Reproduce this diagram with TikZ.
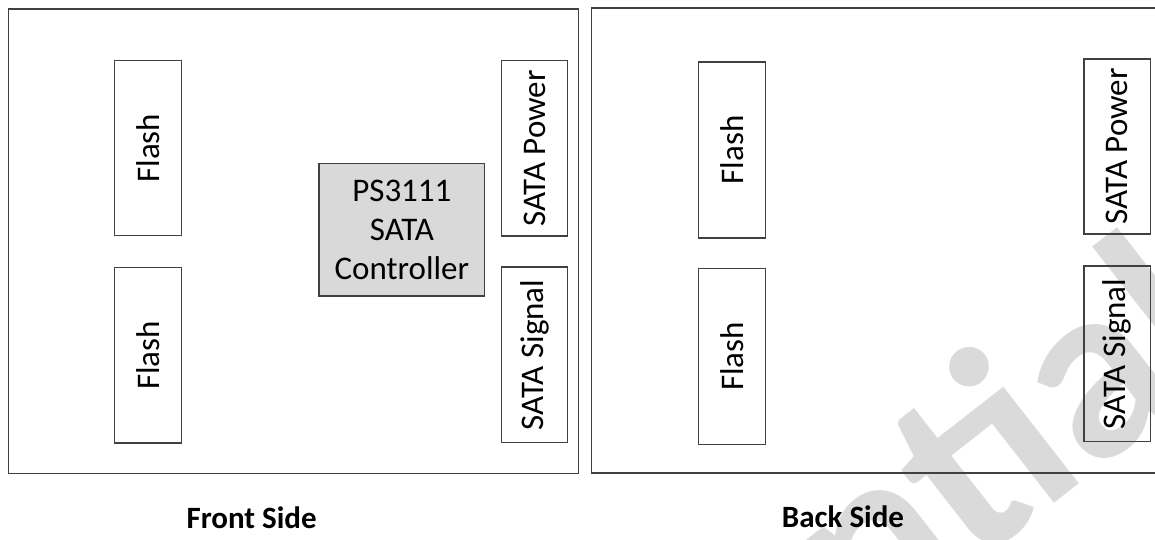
\documentclass[tikz,border=0pt]{standalone}
\usepackage{fontspec}
\setmainfont{Carlito}
\definecolor{edge}{HTML}{404040}
\definecolor{chip}{HTML}{D9D9D9}
\definecolor{wmark}{HTML}{DADADA}
\begin{document}
\begin{tikzpicture}[x=1pt,y=-1pt,
  board/.style={draw=edge,line width=1.6pt},
  part/.style={draw=edge,line width=1.3pt,inner sep=0pt},
  lbl/.style={font=\fontsize{33}{39}\selectfont,text=black},
  sidecap/.style={font=\fontsize{31}{36}\selectfont\bfseries,text=black,anchor=base}]
\useasboundingbox (0,0) rectangle (1155,539);
\begin{scope}
\clip (0,0) rectangle (1155,539);
\node[text=wmark,font=\fontsize{255}{260}\selectfont\bfseries,rotate=38,anchor=base east,inner sep=0pt] (wm) at (1240,359) {Confidential};
\end{scope}
% boards
\draw[board] (8.5,9) rectangle (578.3,473.3);
\draw[board] (1170,8) -- (591.5,8) -- (591.5,472.7) -- (1170,472.7);
% front parts
\draw[part] (114.7,60.7) rectangle (181.3,235.7) node[midway,lbl,rotate=90] (f1) {Flash};
\draw[part] (114.7,267.7) rectangle (181.3,443) node[midway,lbl,rotate=90] (f2) {Flash};
\draw[part,fill=chip] (319,163.7) rectangle (484.7,296) node[midway,lbl,align=center] (ctl) {PS3111\\SATA\\Controller};
\draw[part] (501.3,60.8) rectangle (567.7,236) node[midway,lbl,rotate=90] (p1) {SATA Power};
\draw[part] (501.3,267) rectangle (567.7,442.7) node[midway,lbl,rotate=90] (s1) {SATA Signal};
% back parts
\draw[part] (698.3,62) rectangle (765.5,238) node[midway,lbl,rotate=90] (f3) {Flash};
\draw[part] (698.3,268.7) rectangle (765.5,444.3) node[midway,lbl,rotate=90] (f4) {Flash};
\draw[part] (1084,59) rectangle (1150.7,234) node[midway,lbl,rotate=90] (p2) {SATA Power};
\draw[part] (1084,266) rectangle (1150.7,441.7) node[midway,lbl,rotate=90] (s2) {SATA Signal};
% captions
\node[sidecap] (front) at (251.6,528) {Front Side};
\node[sidecap] (back) at (843,527) {Back Side};
\end{tikzpicture}
\end{document}
